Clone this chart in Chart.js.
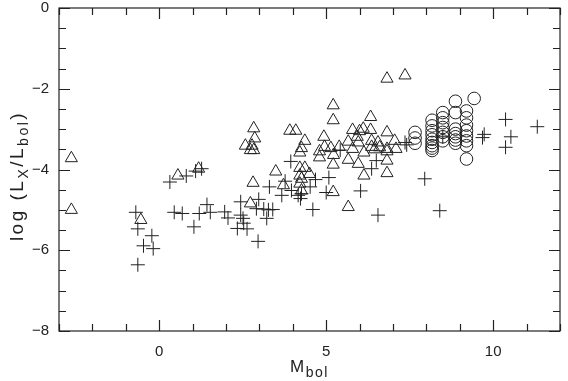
<!DOCTYPE html>
<html>
<head>
<meta charset="utf-8">
<script src="https://cdn.jsdelivr.net/npm/chart.js@4/dist/chart.umd.min.js"></script>
<style>
  html, body { margin: 0; padding: 0; background: #fff; }
  #wrap { width: 568px; height: 381px; }
</style>
</head>
<body>
<div id="wrap"><canvas id="myChart"></canvas></div>
<script>
// triangles
let triX = [-2.63, -2.63, -0.55, 0.56, 1.18, 2.81, 3.72, 2.73, 2.83, 2.86, 2.58, 2.78, 2.73, 2.83,
  3.91, 4.09, 3.49, 5.21, 5.21, 6.33, 5.79, 6.11, 6.33, 4.93, 4.36, 4.26, 4.21, 4.80, 4.80,
  4.95, 5.14, 5.39, 5.22, 5.66, 5.93, 5.96, 5.79, 6.13, 6.36, 6.36, 5.66, 5.96, 5.21, 4.21,
  4.36, 4.21, 4.26, 4.21, 4.50, 4.26, 5.21, 6.13, 5.66, 6.82, 7.36, 6.82, 6.55, 6.60, 7.05,
  6.82, 6.82, 7.09, 6.82, 6.82, 6.00, 6.45];
let triY = [-3.72, -5.00, -5.25, -4.15, -3.98, -4.33, -4.39, -4.84, -2.98, -3.23, -3.41, -3.41, -3.52, -3.52,
  -3.04, -3.04, -4.05, -2.41, -2.78, -2.70, -3.02, -2.99, -3.02, -3.19, -3.29, -3.47, -3.58, -3.55, -3.70,
  -3.44, -3.47, -3.44, -3.64, -3.31, -3.19, -3.33, -3.49, -3.58, -3.44, -3.29, -3.76, -3.86, -3.88, -3.96,
  -3.96, -4.15, -4.23, -4.35, -4.11, -4.52, -4.56, -4.15, -4.93, -1.75, -1.67, -3.08, -3.33, -3.45, -3.29,
  -3.49, -3.55, -3.49, -3.78, -4.09, -3.05, -3.50];

// plus signs
let crossX = [-0.70, -0.64, -0.22, -0.47, -0.18, -0.64, 0.32, 0.81, 1.09, 1.27, 0.45, 0.69, 1.20, 1.04,
  1.43, 1.53, 1.96, 2.06, 2.44, 2.98, 3.30, 3.67, 2.44, 2.51, 2.53, 2.34, 2.63, 2.91, 3.13, 3.27,
  3.40, 3.22, 2.96, 3.94, 3.77, 4.16, 4.26, 4.23, 3.96, 4.68, 4.52, 5.08, 5.00, 4.60, 6.03, 6.36,
  6.50, 5.42, 6.55, 7.36, 7.41, 7.95, 8.40, 8.49, 9.73, 9.68, 10.37, 10.53, 10.37, 11.32];
let crossY = [-5.06, -5.47, -5.64, -5.89, -5.96, -6.36, -4.31, -4.16, -4.04, -3.98, -5.06, -5.09, -5.09, -5.42,
  -4.87, -5.06, -5.05, -5.20, -4.80, -4.74, -4.43, -4.64, -5.13, -5.21, -5.33, -5.46, -5.47, -4.97, -4.98, -5.00,
  -4.99, -5.21, -5.78, -3.80, -4.29, -4.64, -4.60, -4.72, -4.52, -4.25, -4.43, -4.20, -4.57, -4.99, -4.53, -3.98,
  -3.78, -3.52, -5.13, -3.33, -3.39, -4.23, -5.02, -3.19, -3.13, -3.21, -2.76, -3.19, -3.45, -2.94];

// circles
let circX = [7.66, 7.66, 7.66,
  8.17, 8.17, 8.17, 8.17, 8.17, 8.17, 8.17, 8.17, 8.17,
  8.49, 8.49, 8.49, 8.49, 8.49, 8.49, 8.49,
  8.87, 8.87, 8.87, 8.87, 8.87, 8.87, 8.87,
  9.20, 9.20, 9.20, 9.20, 9.20, 9.20, 9.20, 9.20,
  9.43];
let circY = [-3.08, -3.22, -3.35,
  -2.78, -2.92, -3.04, -3.14, -3.25, -3.33, -3.41, -3.47, -3.53,
  -2.59, -2.72, -2.84, -2.96, -3.08, -3.19, -3.29,
  -2.31, -2.59, -3.00, -3.11, -3.19, -3.27, -3.35,
  -2.55, -2.72, -2.90, -3.04, -3.17, -3.29, -3.41, -3.74,
  -2.24];

let xTicks = [0, 5, 10];
let yTicks = [-8, -6, -4, -2, 0];

let ink = '#222';
let font = '"Liberation Sans", Arial, sans-serif';

function pts(xs, ys) {
  return xs.map(function (x, i) { return { x: x, y: ys[i] }; });
}

// draws a run of [text, size, baseline shift] pieces starting at x
function runWidth(ctx, parts) {
  let w = 0;
  parts.forEach(function (p) { ctx.font = p[1] + 'px ' + font; w += ctx.measureText(p[0]).width; });
  return w;
}
function drawRun(ctx, parts, x, y) {
  parts.forEach(function (p) {
    ctx.font = p[1] + 'px ' + font;
    ctx.fillText(p[0], x, y + p[2]);
    x += ctx.measureText(p[0]).width;
  });
}

// frame, inward ticks on all four sides, axis titles with subscripts
let frameTicks = {
  id: 'frameTicks',
  afterDraw(chart) {
    let ctx = chart.ctx;
    let a = chart.chartArea;
    let xs = chart.scales.x, ys = chart.scales.y;
    ctx.save();
    ctx.strokeStyle = ink;
    ctx.lineWidth = 1.2;
    ctx.strokeRect(a.left, a.top, a.right - a.left, a.bottom - a.top);
    ctx.beginPath();
    for (let v = -3; v <= 12; v++) {
      let px = Math.round(xs.getPixelForValue(v)) + 0.5;
      let len = v % 5 === 0 ? 11 : 7;
      ctx.moveTo(px, a.bottom); ctx.lineTo(px, a.bottom - len);
      ctx.moveTo(px, a.top); ctx.lineTo(px, a.top + len);
    }
    for (let v = -8; v <= 0; v += 0.5) {
      let py = Math.round(ys.getPixelForValue(v)) + 0.5;
      let len = v % 2 === 0 ? 11 : 7;
      ctx.moveTo(a.left, py); ctx.lineTo(a.left + len, py);
      ctx.moveTo(a.right, py); ctx.lineTo(a.right - len, py);
    }
    ctx.stroke();

    ctx.fillStyle = ink;
    ctx.textBaseline = 'alphabetic';
    ctx.letterSpacing = '1.5px';

    // x title: M_bol
    let xt = [['M', 17, 0], ['bol', 14, 5]];
    let cx = (a.left + a.right) / 2;
    drawRun(ctx, xt, cx - runWidth(ctx, xt) / 2, 372);

    // y title: log (L_X/L_bol)
    ctx.letterSpacing = '2.5px';
    let yt = [['log (L', 19, 0], ['X', 14, 5], ['/L', 19, 0], ['bol', 14, 5], [')', 19, 0]];
    let total = runWidth(ctx, yt);
    ctx.translate(23, 176);
    ctx.rotate(-Math.PI / 2);
    drawRun(ctx, yt, -total / 2, 0);
    ctx.restore();
  }
};

let myChart = document.getElementById('myChart').getContext('2d');

let chart = new Chart(myChart, {
  type: 'scatter',
  data: {
    datasets: [{
      data: pts(triX, triY),
      pointStyle: 'triangle',
      pointRadius: 7,
      borderColor: ink,
      borderWidth: 1,
      backgroundColor: 'rgba(0,0,0,0)'
    }, {
      data: pts(crossX, crossY),
      pointStyle: 'cross',
      pointRadius: 7,
      borderColor: ink,
      borderWidth: 1,
      backgroundColor: 'rgba(0,0,0,0)'
    }, {
      data: pts(circX, circY),
      pointStyle: 'circle',
      pointRadius: 6.3,
      borderColor: ink,
      borderWidth: 1,
      backgroundColor: 'rgba(0,0,0,0)'
    }]
  },
  options: {
    responsive: true,
    maintainAspectRatio: false,
    animation: false,
    layout: { padding: { top: 6, right: 2, left: 0, bottom: 0 } },
    plugins: {
      legend: { display: false },
      tooltip: { enabled: false }
    },
    scales: {
      x: {
        type: 'linear',
        min: -3,
        max: 12,
        afterBuildTicks: function (s) { s.ticks = xTicks.map(function (v) { return { value: v }; }); },
        afterFit: function (s) { s.height = 50; },
        grid: { display: false, drawTicks: false },
        border: { display: false },
        ticks: {
          padding: 12,
          color: ink,
          font: { family: font, size: 15 },
          maxRotation: 0,
          callback: function (v) { return String(v).replace('-', '\u2212'); }
        }
      },
      y: {
        type: 'linear',
        min: -8,
        max: 0,
        afterBuildTicks: function (s) { s.ticks = yTicks.map(function (v) { return { value: v }; }); },
        afterFit: function (s) { s.width = 59; s.paddingTop = 0; s.paddingBottom = 0; },
        grid: { display: false, drawTicks: false },
        border: { display: false },
        ticks: {
          padding: 10,
          color: ink,
          font: { family: font, size: 15 },
          callback: function (v) { return String(v).replace('-', '\u2212'); }
        }
      }
    }
  },
  plugins: [frameTicks]
});
</script>
</body>
</html>
